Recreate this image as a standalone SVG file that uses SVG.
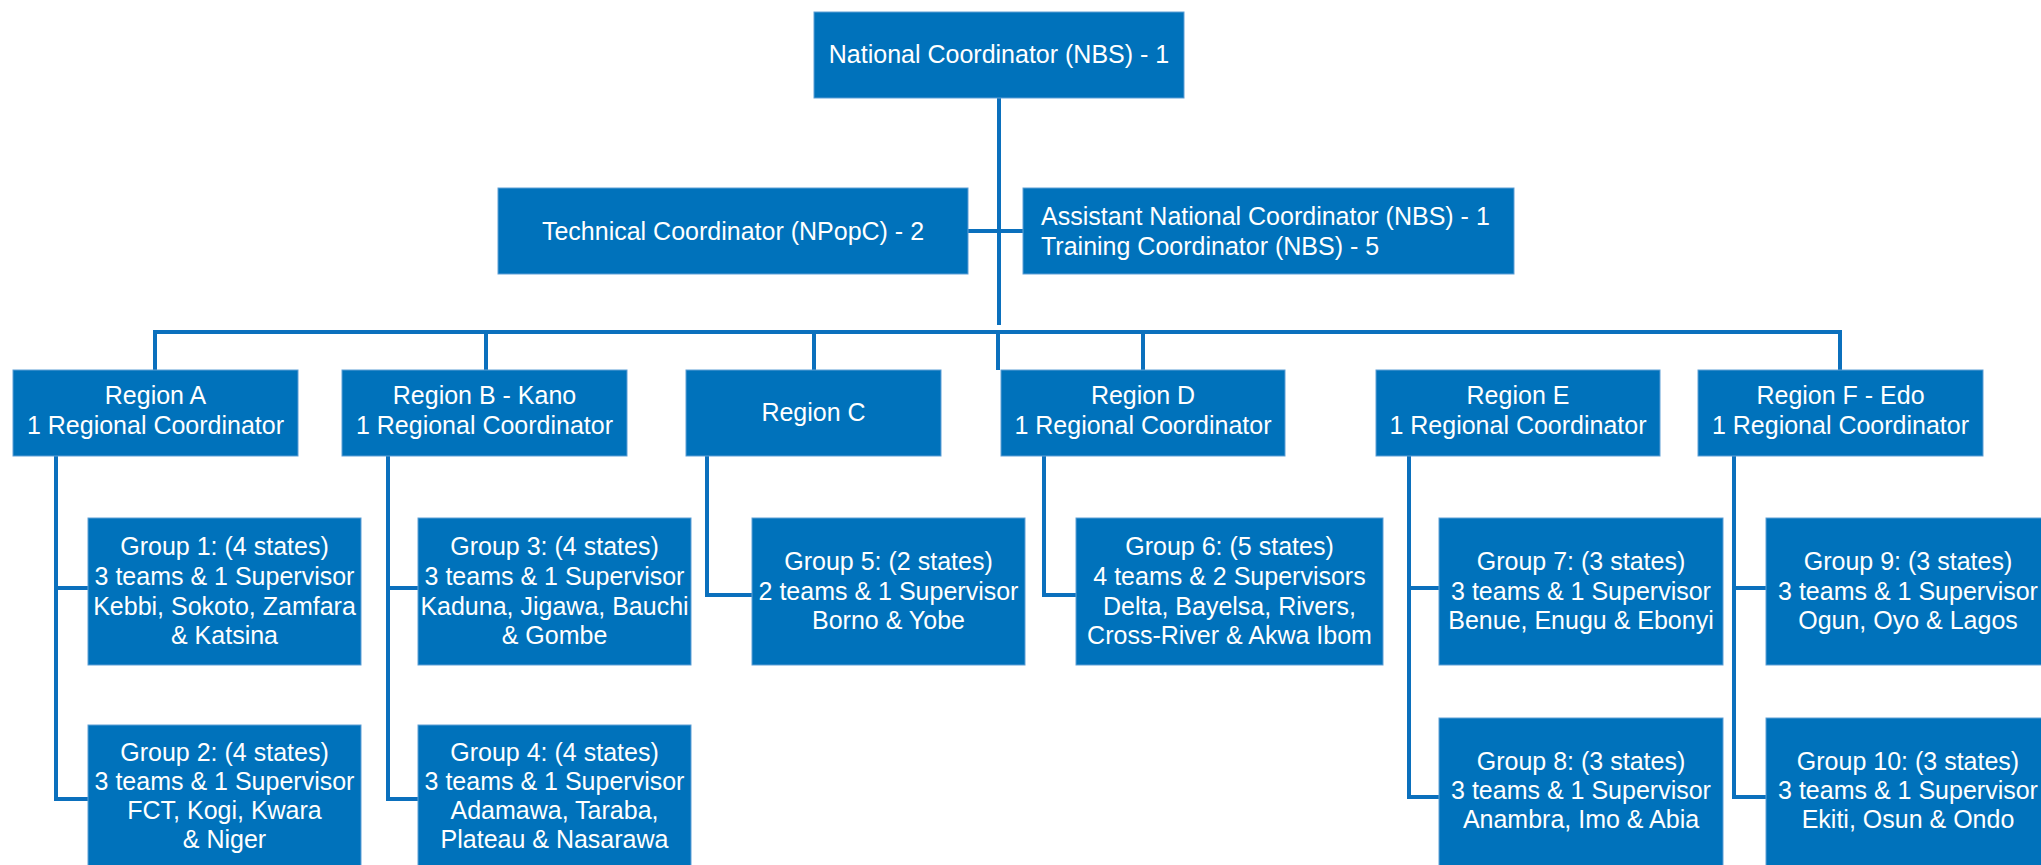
<svg xmlns="http://www.w3.org/2000/svg" width="2041" height="865" viewBox="0 0 2041 865">
<style>
.box{fill:#0072BB;stroke:#5E9FD6;stroke-width:1}
.t{font-family:"Liberation Sans",Arial,sans-serif;font-size:25px;fill:#ffffff;text-anchor:middle}
.tl{font-family:"Liberation Sans",Arial,sans-serif;font-size:25px;fill:#ffffff;text-anchor:start}
.c{fill:none;stroke:#0B70BD;stroke-width:4}
</style>
<rect width="2041" height="865" fill="#ffffff"/>
<g id="connectors">
<path class="c" d="M999 98 V325"/>
<path class="c" d="M968 231 H1023"/>
<path class="c" d="M155 370 V332 H1840 V370"/>
<path class="c" d="M486 332 V370 M814 332 V370 M998 332 V370 M1143 332 V370"/>
<path class="c" d="M56 456 V799 H88 M56 588 H88"/>
<path class="c" d="M388 456 V799 H418 M388 588 H418"/>
<path class="c" d="M707 456 V595 H752"/>
<path class="c" d="M1044 456 V595 H1076"/>
<path class="c" d="M1409 456 V797 H1439 M1409 588 H1439"/>
<path class="c" d="M1734 456 V797 H1766 M1734 588 H1766"/>
</g>
<g id="national"><rect class="box" x="814" y="12" width="370" height="86"/><text class="t" x="999" y="63">National Coordinator (NBS) - 1</text></g>
<g id="technical"><rect class="box" x="498" y="188" width="470" height="86"/><text class="t" x="733" y="240">Technical Coordinator (NPopC) - 2</text></g>
<g id="assistant"><rect class="box" x="1023" y="188" width="491" height="86"/><text class="tl" x="1041" y="225">Assistant National Coordinator (NBS) - 1</text><text class="tl" x="1041" y="255">Training Coordinator (NBS) - 5</text></g>
<g id="regionA"><rect class="box" x="13" y="370" width="285" height="86"/><text class="t" x="155.5" y="404">Region A</text><text class="t" x="155.5" y="434">1 Regional Coordinator</text></g>
<g id="regionB"><rect class="box" x="342" y="370" width="285" height="86"/><text class="t" x="484.5" y="404">Region B - Kano</text><text class="t" x="484.5" y="434">1 Regional Coordinator</text></g>
<g id="regionC"><rect class="box" x="686" y="370" width="255" height="86"/><text class="t" x="813.5" y="421">Region C</text></g>
<g id="regionD"><rect class="box" x="1001" y="370" width="284" height="86"/><text class="t" x="1143" y="404">Region D</text><text class="t" x="1143" y="434">1 Regional Coordinator</text></g>
<g id="regionE"><rect class="box" x="1376" y="370" width="284" height="86"/><text class="t" x="1518" y="404">Region E</text><text class="t" x="1518" y="434">1 Regional Coordinator</text></g>
<g id="regionF"><rect class="box" x="1698" y="370" width="285" height="86"/><text class="t" x="1840.5" y="404">Region F - Edo</text><text class="t" x="1840.5" y="434">1 Regional Coordinator</text></g>
<g id="group1"><rect class="box" x="88" y="518" width="273" height="147"/><text class="t" x="224.5" y="555">Group 1: (4 states)</text><text class="t" x="224.5" y="585">3 teams &amp; 1 Supervisor</text><text class="t" x="224.5" y="615">Kebbi, Sokoto, Zamfara</text><text class="t" x="224.5" y="644">&amp; Katsina</text></g>
<g id="group2"><rect class="box" x="88" y="725" width="273" height="145"/><text class="t" x="224.5" y="761">Group 2: (4 states)</text><text class="t" x="224.5" y="790">3 teams &amp; 1 Supervisor</text><text class="t" x="224.5" y="819">FCT, Kogi, Kwara</text><text class="t" x="224.5" y="848">&amp; Niger</text></g>
<g id="group3"><rect class="box" x="418" y="518" width="273" height="147"/><text class="t" x="554.5" y="555">Group 3: (4 states)</text><text class="t" x="554.5" y="585">3 teams &amp; 1 Supervisor</text><text class="t" x="554.5" y="615">Kaduna, Jigawa, Bauchi</text><text class="t" x="554.5" y="644">&amp; Gombe</text></g>
<g id="group4"><rect class="box" x="418" y="725" width="273" height="145"/><text class="t" x="554.5" y="761">Group 4: (4 states)</text><text class="t" x="554.5" y="790">3 teams &amp; 1 Supervisor</text><text class="t" x="554.5" y="819">Adamawa, Taraba,</text><text class="t" x="554.5" y="848">Plateau &amp; Nasarawa</text></g>
<g id="group5"><rect class="box" x="752" y="518" width="273" height="147"/><text class="t" x="888.5" y="570">Group 5: (2 states)</text><text class="t" x="888.5" y="600">2 teams &amp; 1 Supervisor</text><text class="t" x="888.5" y="629">Borno &amp; Yobe</text></g>
<g id="group6"><rect class="box" x="1076" y="518" width="307" height="147"/><text class="t" x="1229.5" y="555">Group 6: (5 states)</text><text class="t" x="1229.5" y="585">4 teams &amp; 2 Supervisors</text><text class="t" x="1229.5" y="615">Delta, Bayelsa, Rivers,</text><text class="t" x="1229.5" y="644">Cross-River &amp; Akwa Ibom</text></g>
<g id="group7"><rect class="box" x="1439" y="518" width="284" height="147"/><text class="t" x="1581" y="570">Group 7: (3 states)</text><text class="t" x="1581" y="600">3 teams &amp; 1 Supervisor</text><text class="t" x="1581" y="629">Benue, Enugu &amp; Ebonyi</text></g>
<g id="group8"><rect class="box" x="1439" y="718" width="284" height="152"/><text class="t" x="1581" y="770">Group 8: (3 states)</text><text class="t" x="1581" y="799">3 teams &amp; 1 Supervisor</text><text class="t" x="1581" y="828">Anambra, Imo &amp; Abia</text></g>
<g id="group9"><rect class="box" x="1766" y="518" width="284" height="147"/><text class="t" x="1908" y="570">Group 9: (3 states)</text><text class="t" x="1908" y="600">3 teams &amp; 1 Supervisor</text><text class="t" x="1908" y="629">Ogun, Oyo &amp; Lagos</text></g>
<g id="group10"><rect class="box" x="1766" y="718" width="284" height="152"/><text class="t" x="1908" y="770">Group 10: (3 states)</text><text class="t" x="1908" y="799">3 teams &amp; 1 Supervisor</text><text class="t" x="1908" y="828">Ekiti, Osun &amp; Ondo</text></g>
</svg>
